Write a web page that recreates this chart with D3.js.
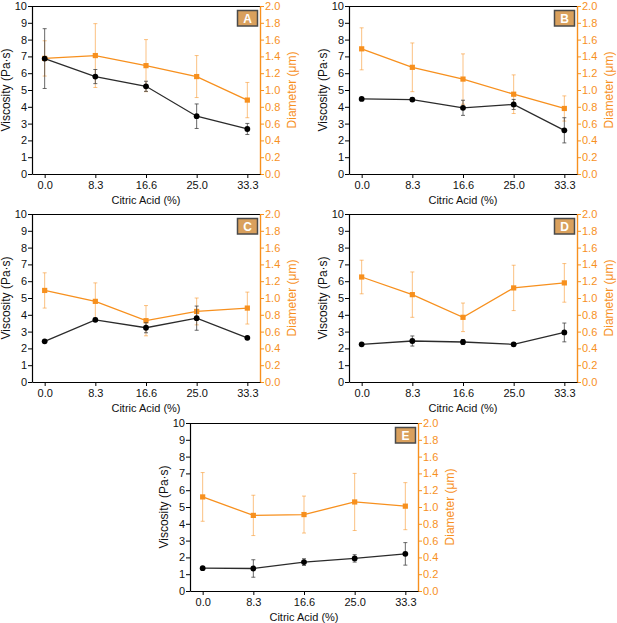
<!DOCTYPE html>
<html>
<head>
<meta charset="utf-8">
<script src="https://cdn.jsdelivr.net/npm/d3@7/dist/d3.min.js"></script>
<style>
  html, body { margin: 0; padding: 0; background: #fff; }
  svg { display: block; }
  text { font-family: "Liberation Sans", Arial, sans-serif; }
</style>
</head>
<body>
<svg id="chart" width="617" height="623"></svg>
<script>
// ---- Data ----
const categories = ["0.0", "8.3", "16.6", "25.0", "33.3"];
const panelLabels = ["A", "B", "C", "D", "E"];
const viscosityTicks = [0,1,2,3,4,5,6,7,8,9,10];
const diameterTicks = [0,0.2,0.4,0.6,0.8,1.0,1.2,1.4,1.6,1.8,2.0];

// Viscosity (Pa·s) and its error
const viscA = [6.87, 5.80, 5.22, 3.44, 2.68];
const viscErrA = [1.78, 0.42, 0.30, 0.73, 0.33];
const viscB = [4.47, 4.43, 3.94, 4.14, 2.60];
const viscErrB = [0.06, 0.10, 0.45, 0.30, 0.75];
const viscC = [2.42, 3.70, 3.23, 3.80, 2.63];
const viscErrC = [0.04, 0.10, 0.30, 0.72, 0.04];
const viscD = [2.24, 2.44, 2.38, 2.24, 2.95];
const viscErrD = [0.05, 0.30, 0.15, 0.10, 0.56];
const viscE = [1.36, 1.34, 1.72, 1.94, 2.21];
const viscErrE = [0.05, 0.52, 0.20, 0.22, 0.67];

// Diameter (µm) and its error
const diamA = [1.376, 1.41, 1.29, 1.16, 0.88];
const diamErrA = [0.21, 0.38, 0.31, 0.25, 0.21];
const diamB = [1.49, 1.27, 1.13, 0.95, 0.78];
const diamErrB = [0.25, 0.29, 0.30, 0.23, 0.15];
const diamC = [1.09, 0.96, 0.73, 0.84, 0.88];
const diamErrC = [0.21, 0.22, 0.18, 0.16, 0.19];
const diamD = [1.25, 1.04, 0.77, 1.12, 1.18];
const diamErrD = [0.20, 0.27, 0.17, 0.27, 0.23];
const diamE = [1.12, 0.90, 0.91, 1.06, 1.01];
const diamErrE = [0.29, 0.24, 0.22, 0.34, 0.28];

const viscSeries = [viscA, viscB, viscC, viscD, viscE];
const viscErrSeries = [viscErrA, viscErrB, viscErrC, viscErrD, viscErrE];
const diamSeries = [diamA, diamB, diamC, diamD, diamE];
const diamErrSeries = [diamErrA, diamErrB, diamErrC, diamErrD, diamErrE];

// ---- Layout ----
const panelPos = [[32, 6], [349, 6], [32, 214], [349, 214], [190, 423]];
const W = 228, H = 168;
const ORANGE = "#f7901e";
const DARK = "#2b2b2b";

const svg = d3.select("#chart");

panelLabels.forEach((lab, i) => {
  const [px, py] = panelPos[i];
  const g = svg.append("g").attr("transform", `translate(${px},${py})`);

  const x = d3.scalePoint().domain(categories).range([0, W]).padding(0.25);
  const yL = d3.scaleLinear().domain([0, 10]).range([H, 0]);
  const yR = d3.scaleLinear().domain([0, 2]).range([H, 0]);

  // top border
  g.append("line").attr("x1", 0).attr("x2", W).attr("y1", 0.5).attr("y2", 0.5)
    .attr("stroke", "#000").attr("stroke-width", 1.2);

  // left axis
  const ax = g.append("g").attr("class", "yl")
    .call(d3.axisLeft(yL).tickValues(viscosityTicks).tickSize(4).tickSizeOuter(0).tickFormat(d3.format("d")));
  ax.select(".domain").attr("stroke", "#000").attr("stroke-width", 1.2);
  ax.selectAll(".tick line").attr("stroke", "#000");
  ax.selectAll(".tick text").attr("x", -5).attr("fill", "#111").style("font-size", "11px")
    .style("font-family", "'Liberation Sans', Arial, sans-serif");

  // right axis
  const ar = g.append("g").attr("transform", `translate(${W},0)`)
    .call(d3.axisRight(yR).tickValues(diameterTicks).tickSize(4).tickSizeOuter(0).tickFormat(d3.format(".1f")));
  ar.select(".domain").attr("stroke", ORANGE).attr("stroke-width", 1.4);
  ar.selectAll(".tick line").attr("stroke", ORANGE);
  ar.selectAll(".tick text").attr("x", 5).attr("fill", ORANGE).style("font-size", "11px")
    .style("font-family", "'Liberation Sans', Arial, sans-serif");

  // bottom axis
  const ab = g.append("g").attr("transform", `translate(0,${H})`)
    .call(d3.axisBottom(x).tickSize(4).tickSizeOuter(0));
  ab.select(".domain").attr("stroke", "#000").attr("stroke-width", 1.2);
  ab.selectAll(".tick line").attr("stroke", "#000");
  ab.selectAll(".tick text").attr("y", 7).attr("fill", "#111").style("font-size", "11px")
    .style("font-family", "'Liberation Sans', Arial, sans-serif");

  // axis titles
  g.append("text").attr("x", W / 2).attr("y", H + 30).attr("text-anchor", "middle")
    .style("font-size", "11px").attr("fill", "#111").text("Citric Acid (%)");
  g.append("text").attr("transform", `translate(-22,${H / 2}) rotate(-90)`)
    .attr("text-anchor", "middle").style("font-size", "12px").attr("fill", "#111")
    .text("Viscosity (Pa·s)");
  g.append("text").attr("transform", `translate(${W + 36},${H / 2}) rotate(-90)`)
    .attr("text-anchor", "middle").style("font-size", "12px").attr("fill", ORANGE)
    .text("Diameter (μm)");

  const diam = diamSeries[i], diamErr = diamErrSeries[i];
  const visc = viscSeries[i], viscErr = viscErrSeries[i];

  // diameter error bars
  const ge = g.append("g").attr("stroke", ORANGE).attr("stroke-opacity", 0.55).attr("stroke-width", 1);
  categories.forEach((c, k) => {
    const cx = x(c);
    const t = yR(diam[k] + diamErr[k]), b = yR(diam[k] - diamErr[k]);
    ge.append("line").attr("x1", cx).attr("x2", cx).attr("y1", t).attr("y2", b);
    ge.append("line").attr("x1", cx - 2).attr("x2", cx + 2).attr("y1", t).attr("y2", t);
    ge.append("line").attr("x1", cx - 2).attr("x2", cx + 2).attr("y1", b).attr("y2", b);
  });
  // diameter line
  g.append("path").datum(categories)
    .attr("d", d3.line().x(c => x(c)).y((c, k) => yR(diam[k])))
    .attr("fill", "none").attr("stroke", ORANGE).attr("stroke-width", 1.3);
  g.selectAll(null).data(categories).enter().append("rect")
    .attr("x", c => x(c) - 2.6).attr("y", (c, k) => yR(diam[k]) - 2.6)
    .attr("width", 5.2).attr("height", 5.2).attr("fill", ORANGE);

  // viscosity error bars
  const gv = g.append("g").attr("stroke", "#444").attr("stroke-opacity", 0.8).attr("stroke-width", 1);
  categories.forEach((c, k) => {
    const cx = x(c);
    const t = yL(visc[k] + viscErr[k]), b = yL(visc[k] - viscErr[k]);
    gv.append("line").attr("x1", cx).attr("x2", cx).attr("y1", t).attr("y2", b);
    gv.append("line").attr("x1", cx - 2).attr("x2", cx + 2).attr("y1", t).attr("y2", t);
    gv.append("line").attr("x1", cx - 2).attr("x2", cx + 2).attr("y1", b).attr("y2", b);
  });
  g.append("path").datum(categories)
    .attr("d", d3.line().x(c => x(c)).y((c, k) => yL(visc[k])))
    .attr("fill", "none").attr("stroke", DARK).attr("stroke-width", 1.3);
  g.selectAll(null).data(categories).enter().append("circle")
    .attr("cx", c => x(c)).attr("cy", (c, k) => yL(visc[k]))
    .attr("r", 2.9).attr("fill", "#000");

  // panel label box
  g.append("rect").attr("x", W - 22.5).attr("y", 4.5).attr("width", 20).attr("height", 15.5)
    .attr("fill", "#d9a05d").attr("stroke", "#4a4a4a").attr("stroke-width", 1.5);
  g.append("text").attr("x", W - 12.5).attr("y", 16.5).attr("text-anchor", "middle")
    .style("font-size", "12px").style("font-weight", "bold").attr("fill", "#fff").text(lab);
});
</script>
</body>
</html>
